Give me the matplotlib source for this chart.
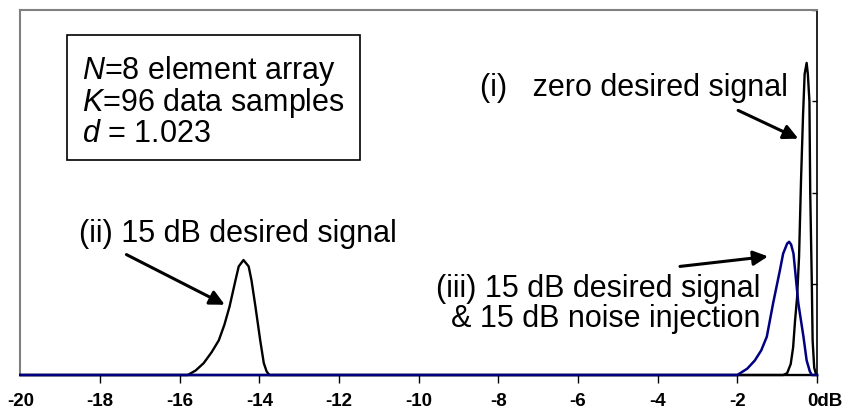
import matplotlib
matplotlib.use('Agg')
import matplotlib.pyplot as plt
import matplotlib.transforms as mtrans
from matplotlib.patches import Rectangle

plt.rcParams['font.family'] = ['Liberation Sans', 'DejaVu Sans']
plt.rcParams['mathtext.fontset'] = 'custom'
plt.rcParams['mathtext.rm'] = 'Liberation Sans'
plt.rcParams['mathtext.it'] = 'Liberation Sans:italic'

# (i) zero desired signal
x_zero = [-20, -0.85, -0.75, -0.66, -0.60, -0.55, -0.50, -0.45, -0.40, -0.35, -0.31,
          -0.26, -0.23, -0.19, -0.17, -0.15, -0.13, -0.11, -0.07, -0.02, 0]
y_zero = [0, 0, 0.02, 0.12, 0.3, 0.6, 0.85, 1.3, 2.15, 2.85, 3.3,
          3.42, 3.3, 3.0, 2.0, 1.5, 1.0, 0.38, 0.08, 0, 0]

# (ii) 15 dB desired signal
x_sig = [-20, -15.8, -15.6, -15.4, -15.2, -15.02, -14.88, -14.75, -14.6, -14.52, -14.4,
         -14.27, -14.2, -14.1, -13.98, -13.89, -13.82, -13.75, 0]
y_sig = [0, 0, 0.05, 0.13, 0.25, 0.38, 0.55, 0.75, 1.04, 1.19, 1.26,
         1.19, 1.04, 0.75, 0.38, 0.13, 0.04, 0, 0]

# (iii) 15 dB desired signal & 15 dB noise injection
x_inj = [-20, -2.0, -1.93, -1.75, -1.56, -1.40, -1.26, -1.10, -0.93, -0.85, -0.75,
         -0.70, -0.65, -0.59, -0.55, -0.47, -0.34, -0.26, -0.18, -0.13, 0]
y_inj = [0, 0, 0.02, 0.07, 0.16, 0.27, 0.42, 0.79, 1.15, 1.33, 1.44,
         1.46, 1.43, 1.33, 1.15, 0.79, 0.42, 0.16, 0.04, 0, 0]

xticks = [-20, -18, -16, -14, -12, -10, -8, -6, -4, -2, 0]
xlabels = ['-20', '-18', '-16', '-14', '-12', '-10', '-8', '-6', '-4', '-2', '0dB']

fig = plt.figure(figsize=(8.49, 4.2), dpi=100)
ax = fig.add_axes([0.0241, 0.1071, 0.9382, 0.8691])

ax.plot(x_zero, y_zero, color='black', lw=1.7, clip_on=False, zorder=3)
ax.plot(x_sig, y_sig, color='black', lw=1.7, clip_on=False, zorder=3)
ax.plot(x_inj, y_inj, color='#000080', lw=1.8, clip_on=False, zorder=4)

ax.set_xlim(-20, 0)
ax.set_ylim(0, 4)

ax.set_xticks(xticks)
ax.set_xticklabels(xlabels, fontsize=13.5, fontweight='bold')
ax.tick_params(axis='x', direction='out', length=6, width=1, pad=7, color='black')
ax.xaxis.get_major_ticks()[0].tick1line.set_visible(False)
# "0dB" sits a little right of its tick
lab = ax.get_xticklabels()[-1]
lab.set_transform(lab.get_transform() + mtrans.ScaledTranslation(8 / 100, 0, fig.dpi_scale_trans))

ax.yaxis.tick_right()
ax.set_yticks([1, 2, 3, 4])
ax.tick_params(axis='y', direction='in', length=3.5, width=1, labelright=False)

for s in ['left', 'top']:
    ax.spines[s].set_color('#808080')
    ax.spines[s].set_linewidth(1.5)
ax.spines['right'].set_color('black')
ax.spines['right'].set_linewidth(1.2)
ax.spines['bottom'].set_color('black')
ax.spines['bottom'].set_linewidth(1.2)

fs = 22
ax.add_patch(Rectangle((-18.84, 2.36), 7.36, 1.37, fill=False, ec='black', lw=1.2, zorder=5))
ax.text(-18.45, 3.24, '$N$=8 element array', fontsize=fs, va='baseline')
ax.text(-18.45, 2.89, '$K$=96 data samples', fontsize=fs, va='baseline')
ax.text(-18.45, 2.55, '$d$ = 1.023', fontsize=fs, va='baseline')

arrow = dict(arrowstyle='-|>', lw=2.2, color='black', mutation_scale=22, shrinkA=0, shrinkB=0)

ax.text(-0.73, 3.06, '(i)   zero desired signal', fontsize=fs, ha='right', va='baseline')
ax.annotate('', xy=(-0.47, 2.59), xytext=(-1.98, 2.90), arrowprops=arrow)

ax.text(-18.52, 1.46, '(ii) 15 dB desired signal', fontsize=fs, va='baseline')
ax.annotate('', xy=(-14.87, 0.77), xytext=(-17.34, 1.32), arrowprops=arrow)

ax.text(-1.43, 0.855, '(iii) 15 dB desired signal', fontsize=fs, ha='right', va='baseline')
ax.text(-1.43, 0.53, '& 15 dB noise injection', fontsize=fs, ha='right', va='baseline')
ax.annotate('', xy=(-1.23, 1.30), xytext=(-3.44, 1.19), arrowprops=arrow)

fig.savefig('out.png', dpi=100)
